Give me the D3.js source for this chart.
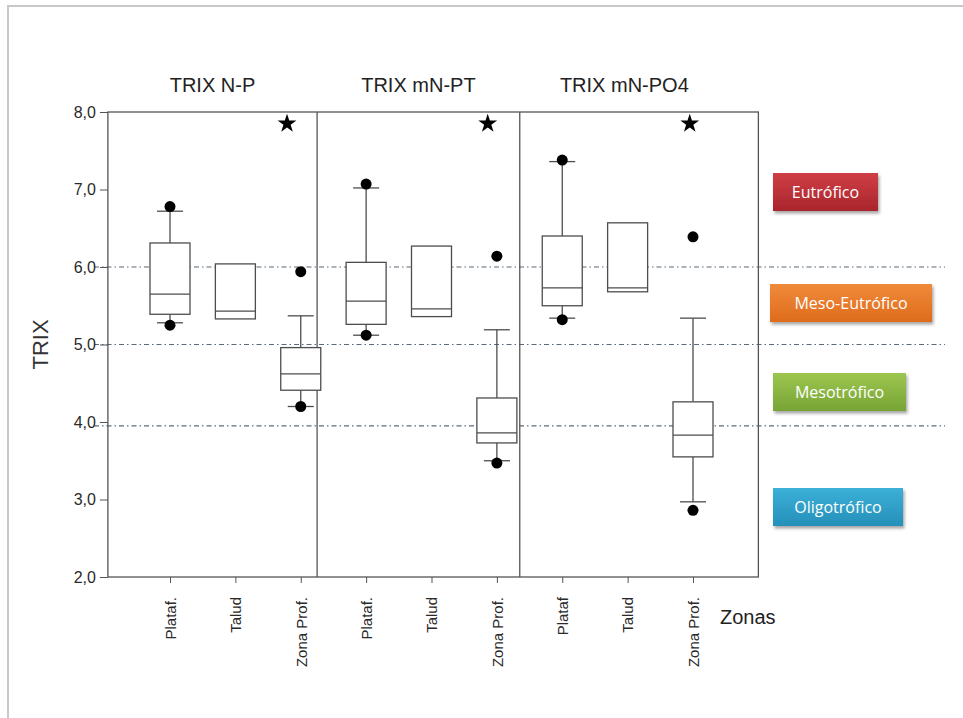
<!doctype html>
<html>
<head>
<meta charset="utf8">
<script src="https://d3js.org/d3.v7.min.js"></script>
<style>
  body { margin: 0; background: #fff; }
  svg { display: block; }
  .axis text { font-family: "Liberation Sans", Arial, sans-serif; fill: #2a2a2a; }
  .axis path, .axis line { stroke: #555; }
</style>
</head>
<body>
<svg width="963" height="718"></svg>
<script>
// categories along the bottom (three panels x three zones)
var categories = ["Plataf.", "Talud", "Zona Prof.", "Plataf.", "Talud", "Zona Prof.", "Plataf", "Talud", "Zona Prof."];
var panelTitles = ["TRIX N-P", "TRIX mN-PT", "TRIX mN-PO4"];
var yTicks = [2, 3, 4, 5, 6, 7, 8];

// box statistics per category (null = no whisker)
var whiskLow  = [5.28, null, 4.20, 5.12, null, 3.50, 5.34, null, 2.97];
var q1        = [5.39, 5.33, 4.41, 5.26, 5.36, 3.73, 5.50, 5.68, 3.55];
var median    = [5.65, 5.43, 4.62, 5.56, 5.46, 3.86, 5.73, 5.73, 3.83];
var q3        = [6.31, 6.04, 4.96, 6.06, 6.27, 4.31, 6.40, 6.57, 4.26];
var whiskHigh = [6.72, null, 5.37, 7.02, null, 5.19, 7.36, null, 5.34];

// outlier dots: category index and value
var outlierCat = [0, 0, 2, 2, 3, 3, 5, 5, 6, 6, 8, 8];
var outlierVal = [6.78, 5.25, 5.94, 4.20, 7.07, 5.12, 6.14, 3.47, 7.38, 5.32, 6.39, 2.86];

// stars (significance marks)
var starPos = [2.79, 5.86, 8.95];
var starVal = [7.85, 7.85, 7.85];

// trophic thresholds
var thresholds = [6.0, 5.0, 3.95];

var legendLabels = ["Eutrófico", "Meso-Eutrófico", "Mesotrófico", "Oligotrófico"];
var legendColors = [["#cf3f45", "#a9252c"], ["#f08a3a", "#de6c1c"], ["#9cc64f", "#78a436"], ["#3cb0d8", "#2590b9"]];

var svg = d3.select("svg");

var x = d3.scaleLinear().domain([1, 9]).range([170, 693]);
var y = d3.scaleLinear().domain([2, 8]).range([577, 112]);

var left = x(0.05), right = x(10), dividers = [3.25, 6.35];

// outer light frame
svg.append("path")
   .attr("d", "M8,718 L8,6 L963,6")
   .attr("fill", "none")
   .attr("stroke", "#c8c8c8")
   .attr("stroke-width", 2);

// threshold lines (dash-dot)
svg.selectAll(".thr")
   .data(thresholds)
   .enter().append("line")
   .attr("x1", 94).attr("x2", 945)
   .attr("y1", function(d) { return y(d); })
   .attr("y2", function(d) { return y(d); })
   .attr("stroke", "#5d6b78")
   .attr("stroke-width", 1.2)
   .attr("stroke-dasharray", "5,3,1.5,3");

// plot frame
svg.append("rect")
   .attr("x", left).attr("y", y(8))
   .attr("width", right - left).attr("height", y(2) - y(8))
   .attr("fill", "none").attr("stroke", "#555").attr("stroke-width", 1.3);

svg.selectAll(".div")
   .data(dividers)
   .enter().append("line")
   .attr("x1", function(d) { return x(d); })
   .attr("x2", function(d) { return x(d); })
   .attr("y1", y(8)).attr("y2", y(2))
   .attr("stroke", "#555").attr("stroke-width", 1.3);

// y axis
var gy = svg.append("g")
   .attr("class", "axis")
   .attr("transform", "translate(" + left + ",0)")
   .call(d3.axisLeft(y).tickValues(yTicks).tickSizeOuter(0).tickSize(8).tickPadding(4)
         .tickFormat(function(d) { return d3.format(".1f")(d).replace(".", ","); }));
gy.select(".domain").remove();
gy.selectAll("text").attr("font-size", 16);

// x axis
var gx = svg.append("g")
   .attr("class", "axis")
   .attr("transform", "translate(0," + y(2) + ")")
   .call(d3.axisBottom(x).tickValues(d3.range(1, 10)).tickSizeOuter(0).tickSize(6)
         .tickFormat(function(d, i) { return categories[i]; }));
gx.select(".domain").remove();
gx.selectAll("text")
  .attr("font-size", 15)
  .attr("transform", "rotate(-90)")
  .attr("text-anchor", "end")
  .attr("x", -20)
  .attr("y", 0)
  .attr("dy", "0.35em");

// boxes
var idx = d3.range(categories.length);
var bw = 40, cap = 26;
var g = svg.append("g").attr("stroke", "#4d4d4d").attr("stroke-width", 1.3).attr("fill", "none");

idx.forEach(function(i) {
    var cx = x(i + 1);
    if (whiskHigh[i] !== null) {
        g.append("line").attr("x1", cx).attr("x2", cx).attr("y1", y(q3[i])).attr("y2", y(whiskHigh[i]));
        g.append("line").attr("x1", cx - cap / 2).attr("x2", cx + cap / 2).attr("y1", y(whiskHigh[i])).attr("y2", y(whiskHigh[i]));
    }
    if (whiskLow[i] !== null) {
        g.append("line").attr("x1", cx).attr("x2", cx).attr("y1", y(q1[i])).attr("y2", y(whiskLow[i]));
        g.append("line").attr("x1", cx - cap / 2).attr("x2", cx + cap / 2).attr("y1", y(whiskLow[i])).attr("y2", y(whiskLow[i]));
    }
    g.append("rect")
     .attr("x", cx - bw / 2).attr("width", bw)
     .attr("y", y(q3[i])).attr("height", y(q1[i]) - y(q3[i]))
     .attr("fill", "#fff");
    g.append("line").attr("x1", cx - bw / 2).attr("x2", cx + bw / 2).attr("y1", y(median[i])).attr("y2", y(median[i]));
});

// outliers
svg.selectAll(".out")
   .data(outlierVal)
   .enter().append("circle")
   .attr("cx", function(d, i) { return x(outlierCat[i] + 1); })
   .attr("cy", function(d) { return y(d); })
   .attr("r", 5.5)
   .attr("fill", "#000");

// stars
svg.selectAll(".star")
   .data(starPos)
   .enter().append("path")
   .attr("d", d3.symbol().type(d3.symbolStar).size(110))
   .attr("transform", function(d, i) { return "translate(" + x(d) + "," + y(starVal[i]) + ")"; })
   .attr("fill", "#000");

// panel titles
var titleAt = [1.65, 4.8, 7.95];
svg.selectAll(".title")
   .data(panelTitles)
   .enter().append("text")
   .attr("x", function(d, i) { return x(titleAt[i]); })
   .attr("y", 92)
   .attr("text-anchor", "middle")
   .attr("font-family", "'Liberation Sans Narrow', 'Liberation Sans', Arial, sans-serif")
   .attr("font-size", 20)
   .attr("fill", "#222")
   .text(function(d) { return d; });

// axis titles
svg.append("text")
   .attr("transform", "translate(48," + y(5) + ") rotate(-90)")
   .attr("text-anchor", "middle")
   .attr("font-family", "'Liberation Sans', Arial, sans-serif")
   .attr("font-size", 22)
   .attr("fill", "#333")
   .text("TRIX");

svg.append("text")
   .attr("x", 720).attr("y", 624)
   .attr("font-family", "'Liberation Sans', Arial, sans-serif")
   .attr("font-size", 20)
   .attr("fill", "#222")
   .text("Zonas");

// trophic legend boxes
var defs = svg.append("defs");
defs.append("filter").attr("id", "sh").attr("x", "-10%").attr("y", "-10%").attr("width", "130%").attr("height", "150%")
    .append("feDropShadow").attr("dx", 1.5).attr("dy", 2.5).attr("stdDeviation", 1.8).attr("flood-color", "#000").attr("flood-opacity", 0.35);
legendColors.forEach(function(c, i) {
    var lg = defs.append("linearGradient").attr("id", "lg" + i).attr("x1", 0).attr("y1", 0).attr("x2", 0).attr("y2", 1);
    lg.append("stop").attr("offset", "0%").attr("stop-color", c[0]);
    lg.append("stop").attr("offset", "100%").attr("stop-color", c[1]);
});

var legTop = [173, 284, 373, 488], legLeft = [773, 770, 773, 773], legW = [105, 162, 133, 130];
var leg = svg.selectAll(".leg")
   .data(legendLabels)
   .enter().append("g")
   .attr("transform", function(d, i) { return "translate(" + legLeft[i] + "," + legTop[i] + ")"; });
leg.append("rect")
   .attr("width", function(d, i) { return legW[i]; })
   .attr("height", 38)
   .attr("fill", function(d, i) { return "url(#lg" + i + ")"; })
   .attr("filter", "url(#sh)");
leg.append("text")
   .attr("x", function(d, i) { return legW[i] / 2; })
   .attr("y", 25)
   .attr("text-anchor", "middle")
   .attr("font-family", "'Open Sans', 'Noto Sans', sans-serif")
   .attr("font-size", 16)
   .attr("fill", "#fff")
   .text(function(d) { return d; });
</script>
</body>
</html>
